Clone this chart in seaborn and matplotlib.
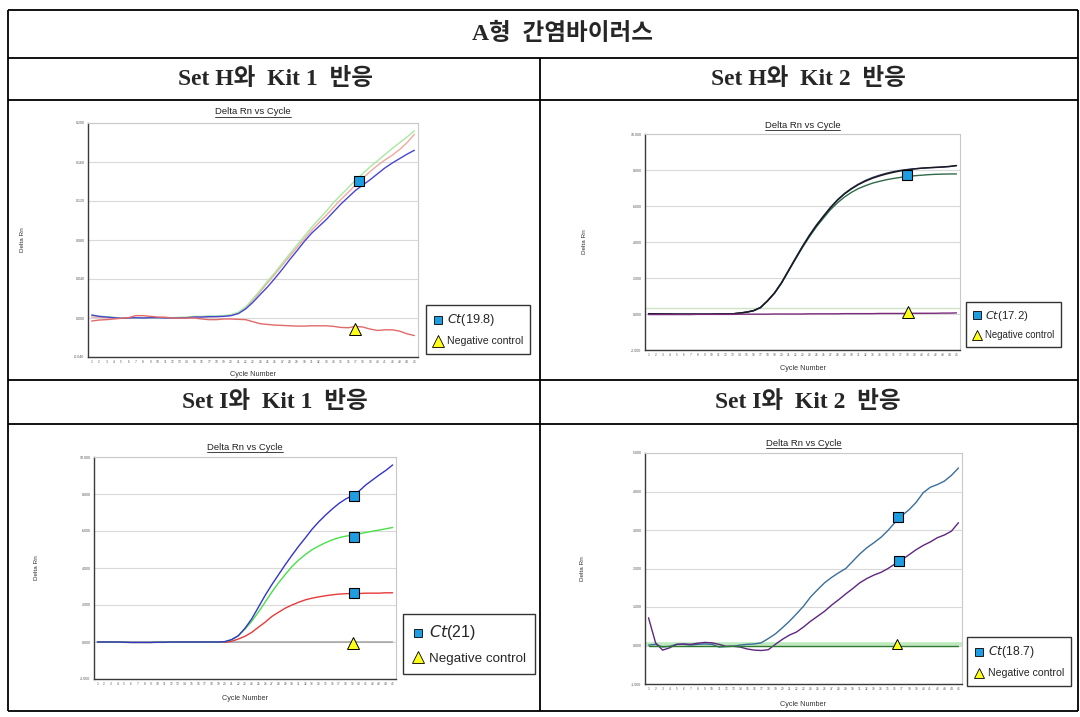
import numpy as np
import pandas as pd
import matplotlib
matplotlib.use("Agg")
import matplotlib.pyplot as plt
from matplotlib.lines import Line2D
import seaborn as sns

sns.set_theme(style="white")
plt.rcParams['font.family'] = ['Liberation Sans', 'Noto Sans CJK KR', 'DejaVu Sans']

# ---------------- data ----------------
cycles = list(range(1, 46))

main_title = "A형  간염바이러스"
panel_titles = ["Set H와  Kit 1  반응", "Set H와  Kit 2  반응", "Set I와  Kit 1  반응", "Set I와  Kit 2  반응"]
chart_title = "Delta Rn vs Cycle"
x_label = "Cycle Number"
y_label = "Delta Rn"

# Panel 1: Set H + Kit 1
p1_blue = [0.0031, 0.0017, 0.0010, 0.0003, -0.0003, 0.0000, 0.0003, 0.0000, 0.0003, 0.0003,
           0.0000, 0.0000, 0.0000, 0.0003, 0.0010, 0.0010, 0.0014, 0.0014, 0.0017, 0.0024,
           0.0045, 0.0093, 0.0162, 0.0242, 0.0320, 0.0408, 0.0500, 0.0598, 0.0690, 0.0785,
           0.0870, 0.0940, 0.1010, 0.1090, 0.1170, 0.1240, 0.1310, 0.1365, 0.1420, 0.1480,
           0.1540, 0.1590, 0.1635, 0.1680, 0.1720]
p1_green = [0.0024, 0.0017, 0.0014, 0.0007, 0.0003, 0.0003, 0.0000, -0.0003, 0.0000, 0.0000,
            0.0000, 0.0003, 0.0007, 0.0010, 0.0017, 0.0017, 0.0021, 0.0021, 0.0024, 0.0035,
            0.0059, 0.0114, 0.0197, 0.0287, 0.0380, 0.0467, 0.0563, 0.0657, 0.0750, 0.0840,
            0.0930, 0.1013, 0.1096, 0.1186, 0.1262, 0.1338, 0.1414, 0.1483, 0.1552, 0.1614,
            0.1677, 0.1739, 0.1798, 0.1856, 0.1919]
p1_salmon = [0.0010, 0.0007, 0.0003, 0.0000, 0.0000, -0.0003, 0.0000, 0.0003, 0.0000, 0.0003,
             0.0007, 0.0003, 0.0000, 0.0003, 0.0007, 0.0010, 0.0010, 0.0014, 0.0017, 0.0028,
             0.0052, 0.0104, 0.0183, 0.0270, 0.0363, 0.0449, 0.0543, 0.0633, 0.0723, 0.0812,
             0.0899, 0.0978, 0.1054, 0.1137, 0.1217, 0.1290, 0.1366, 0.1435, 0.1504, 0.1566,
             0.1621, 0.1670, 0.1729, 0.1798, 0.1884]
p1_neg = [-0.0031, -0.0021, -0.0017, -0.0010, -0.0003, 0.0003, 0.0024, 0.0024, 0.0017, 0.0010,
          0.0007, 0.0000, -0.0003, 0.0000, 0.0000, -0.0010, -0.0017, -0.0017, -0.0010, -0.0010,
          -0.0014, -0.0017, -0.0038, -0.0059, -0.0066, -0.0073, -0.0076, -0.0080, -0.0083, -0.0083,
          -0.0080, -0.0080, -0.0080, -0.0086, -0.0097, -0.0100, -0.0086, -0.0093, -0.0114, -0.0128,
          -0.0121, -0.0121, -0.0135, -0.0162, -0.0180]
p1_ct_x, p1_ct_y = [37.5], [0.1407]
p1_neg_x, p1_neg_y = [36.9], [-0.0114]
p1_ct_label = "(19.8)"

# Panel 2: Set H + Kit 2
p2_black = [0.02, 0.01, 0.00, 0.00, -0.01, -0.01, -0.01, -0.01, -0.01, -0.01,
            0.00, 0.00, 0.01, 0.05, 0.10, 0.18, 0.35, 0.72, 1.15, 1.72,
            2.40, 3.08, 3.74, 4.36, 4.92, 5.42, 5.90, 6.32, 6.67, 6.95,
            7.19, 7.38, 7.54, 7.67, 7.78, 7.87, 7.95, 8.01, 8.06, 8.10,
            8.13, 8.15, 8.17, 8.20, 8.25]
p2_navy = [0.01, 0.01, 0.00, 0.00, -0.01, -0.01, -0.01, -0.01, -0.01, -0.01,
           0.00, 0.00, 0.01, 0.05, 0.11, 0.19, 0.37, 0.74, 1.18, 1.75,
           2.43, 3.10, 3.77, 4.39, 4.95, 5.45, 5.93, 6.35, 6.70, 6.98,
           7.22, 7.42, 7.58, 7.71, 7.82, 7.91, 7.98, 8.03, 8.07, 8.10,
           8.12, 8.14, 8.16, 8.19, 8.24]
p2_green = [0.01, 0.00, 0.00, -0.01, -0.01, -0.01, -0.01, -0.01, -0.01, -0.01,
            0.00, 0.00, 0.01, 0.05, 0.10, 0.18, 0.36, 0.73, 1.16, 1.72,
            2.38, 3.05, 3.70, 4.30, 4.85, 5.33, 5.80, 6.18, 6.50, 6.76,
            6.97, 7.13, 7.27, 7.37, 7.46, 7.53, 7.59, 7.64, 7.68, 7.71,
            7.74, 7.76, 7.77, 7.78, 7.78]
p2_neg = [-0.03, -0.03, -0.03, -0.03, -0.03, -0.03, -0.03, -0.02, -0.02, -0.02,
          -0.02, -0.02, -0.02, -0.01, -0.01, -0.01, -0.01, -0.01, 0.00, 0.00,
          0.00, 0.00, 0.00, 0.01, 0.01, 0.01, 0.01, 0.01, 0.02, 0.02,
          0.02, 0.02, 0.02, 0.03, 0.03, 0.03, 0.03, 0.03, 0.04, 0.04,
          0.04, 0.04, 0.05, 0.05, 0.06]
p2_threshold = 0.33
p2_ct_x, p2_ct_y = [37.9], [7.70]
p2_neg_x, p2_neg_y = [38.0], [0.11]
p2_ct_label = "(17.2)"

# Panel 3: Set I + Kit 1
p3_blue = [0.00, 0.00, 0.00, 0.00, -0.01, -0.02, -0.02, -0.02, -0.02, -0.01,
           -0.01, 0.00, 0.00, 0.00, 0.00, 0.00, 0.00, 0.00, 0.00, 0.02,
           0.13, 0.34, 0.74, 1.25, 1.88, 2.52, 3.10, 3.64, 4.18, 4.69,
           5.18, 5.63, 6.10, 6.50, 6.86, 7.19, 7.49, 7.73, 7.91, 8.16,
           8.49, 8.76, 9.03, 9.28, 9.57]
p3_green = [0.00, 0.00, 0.00, 0.00, -0.01, -0.02, -0.02, -0.02, -0.02, -0.01,
            -0.01, 0.00, 0.00, 0.00, 0.00, 0.00, 0.00, 0.00, 0.00, 0.02,
            0.12, 0.34, 0.70, 1.12, 1.62, 2.15, 2.70, 3.20, 3.65, 4.08,
            4.43, 4.73, 4.99, 5.19, 5.37, 5.52, 5.64, 5.72, 5.78, 5.85,
            5.92, 5.99, 6.05, 6.12, 6.19]
p3_red = [0.00, 0.00, 0.00, 0.00, -0.01, -0.02, -0.02, -0.02, -0.02, -0.01,
          -0.01, 0.00, 0.00, 0.00, 0.00, 0.00, 0.00, 0.00, -0.01, -0.02,
          0.04, 0.16, 0.31, 0.52, 0.80, 1.07, 1.38, 1.61, 1.83, 2.00,
          2.15, 2.28, 2.37, 2.44, 2.50, 2.55, 2.59, 2.61, 2.62, 2.62,
          2.64, 2.64, 2.64, 2.66, 2.66]
p3_neg = [0.00, 0.00, 0.00, -0.01, -0.02, -0.03, -0.03, -0.03, -0.03, -0.02,
          -0.02, -0.01, -0.01, -0.01, 0.00, 0.00, 0.00, 0.00, 0.00, 0.00,
          0.00, 0.00, 0.00, 0.00, 0.00, 0.00, 0.00, 0.00, 0.00, 0.00,
          0.00, 0.00, 0.00, 0.00, 0.00, 0.00, 0.00, 0.00, 0.00, 0.00,
          0.00, 0.00, 0.00, 0.00, 0.00]
p3_ct_x, p3_ct_y = [39.3, 39.3, 39.3], [7.91, 5.70, 2.66]
p3_neg_x, p3_neg_y = [39.1], [-0.05]
p3_ct_label = "(21)"

# Panel 4: Set I + Kit 2
p4_blue = [0.01, 0.03, -0.04, -0.02, 0.03, 0.03, 0.01, 0.03, 0.04, 0.03,
           -0.04, -0.03, -0.02, 0.01, 0.03, 0.04, 0.07, 0.18, 0.30, 0.46,
           0.63, 0.82, 1.02, 1.26, 1.45, 1.63, 1.77, 1.89, 2.00, 2.19,
           2.38, 2.54, 2.67, 2.81, 2.99, 3.20, 3.38, 3.53, 3.72, 3.97,
           4.11, 4.18, 4.27, 4.42, 4.61]
p4_purple = [0.72, 0.07, -0.12, -0.06, 0.03, 0.04, 0.03, 0.06, 0.08, 0.07,
             0.03, -0.02, -0.02, -0.04, -0.09, -0.12, -0.13, -0.11, 0.03, 0.16,
             0.27, 0.35, 0.48, 0.63, 0.76, 0.89, 1.05, 1.19, 1.34, 1.48,
             1.63, 1.74, 1.83, 1.90, 2.00, 2.12, 2.23, 2.36, 2.49, 2.60,
             2.69, 2.80, 2.87, 2.97, 3.19]
p4_neg = [0.00, 0.00, 0.00, 0.00, 0.00, 0.00, 0.00, 0.00, 0.00, 0.00,
          0.00, 0.00, 0.00, 0.00, 0.00, 0.00, 0.00, 0.00, 0.00, 0.00,
          0.00, 0.00, 0.00, 0.00, 0.00, 0.00, 0.00, 0.00, 0.00, 0.00,
          0.00, 0.00, 0.00, 0.00, 0.00, 0.00, 0.00, 0.00, 0.00, 0.00,
          0.00, 0.00, 0.00, 0.00, 0.00]
p4_threshold = 0.05
p4_ct_x, p4_ct_y = [36.4, 36.5], [3.35, 2.19]
p4_neg_x, p4_neg_y = [36.3], [0.04]
p4_ct_label = "(18.7)"

p1_yticks = [-0.040, 0.000, 0.040, 0.080, 0.120, 0.160, 0.200]
p2_yticks = [-2.0, 0.0, 2.0, 4.0, 6.0, 8.0, 10.0]
p3_yticks = [-2.0, 0.0, 2.0, 4.0, 6.0, 8.0, 10.0]
p4_yticks = [-1.0, 0.0, 1.0, 2.0, 3.0, 4.0, 5.0]

# ---------------- layout ----------------
W, H = 1080, 717
fig = plt.figure(figsize=(W / 100, H / 100), dpi=100)
fig.patch.set_facecolor('white')


def fx(px):
    return px / W


def fy(py):
    return 1 - py / H


def line(x0, y0, x1, y1, lw=1.3):
    fig.add_artist(Line2D([fx(x0), fx(x1)], [fy(y0), fy(y1)], transform=fig.transFigure,
                          color='black', lw=lw, solid_capstyle='butt'))


# table frame
TL, TR, TT, TB = 8, 1078, 10, 711
for y in [TT, 58, 100, 380, 424, TB]:
    line(TL, y, TR, y)
line(TL, TT, TL, TB)
line(TR, TT, TR, TB)
line(540, 58, 540, TB)

head_font = ['Liberation Serif', 'Noto Sans CJK KR']
fig.text(fx(563), fy(34), main_title, ha='center', va='center', fontsize=17,
         fontweight='bold', family=head_font)
for (cx, cy), t in zip([(275, 79), (808, 79), (275, 402), (808, 402)], panel_titles):
    fig.text(fx(cx), fy(cy), t, ha='center', va='center', fontsize=17,
             fontweight='bold', family=head_font)

panels = [
    dict(rect=(88, 123, 418, 357),
         series=[("p1_salmon", p1_salmon, "#f0a8a0"), ("p1_green", p1_green, "#a8e8a0"),
                 ("p1_blue", p1_blue, "#4646d2"), ("p1_neg", p1_neg, "#e06a6a")],
         ylim=(-0.04, 0.2), yticks=p1_yticks, threshold=None,
         ct=(p1_ct_x, p1_ct_y), neg=(p1_neg_x, p1_neg_y), ct_label=p1_ct_label,
         sq=7.5, tri=8.5, title_y=112, ylab_x=22, xlab_y=374,
         leg=(426, 305, 531, 354), leg_fs=7.6, ct_fs=9.2),
    dict(rect=(645, 134, 960, 350),
         series=[("p2_green", p2_green, "#2f6a4a"), ("p2_navy", p2_navy, "#2c3560"),
                 ("p2_black", p2_black, "#1a1a22"), ("p2_neg", p2_neg, "#7a2a7a")],
         ylim=(-2, 10), yticks=p2_yticks, threshold=(p2_threshold, "#cfe3c5", 1.0),
         ct=(p2_ct_x, p2_ct_y), neg=(p2_neg_x, p2_neg_y), ct_label=p2_ct_label,
         sq=7, tri=8, title_y=125, ylab_x=584, xlab_y=369,
         leg=(966, 302, 1060, 346), leg_fs=6.9, ct_fs=8.2),
    dict(rect=(94, 457, 396, 679),
         series=[("p3_neg", p3_neg, "#9a9a9a"), ("p3_red", p3_red, "#e83a3a"),
                 ("p3_green", p3_green, "#48e048"), ("p3_blue", p3_blue, "#3434c8")],
         ylim=(-2, 10), yticks=p3_yticks, threshold=None,
         ct=(p3_ct_x, p3_ct_y), neg=(p3_neg_x, p3_neg_y), ct_label=p3_ct_label,
         sq=7, tri=8.5, title_y=447, ylab_x=37, xlab_y=698,
         leg=(403, 614, 537, 674), leg_fs=9.6, ct_fs=11.5),
    dict(rect=(645, 453, 962, 684),
         series=[("p4_blue", p4_blue, "#3a6e9a"), ("p4_purple", p4_purple, "#5e2680"),
                 ("p4_neg", p4_neg, "#2e7a2e")],
         ylim=(-1, 5), yticks=p4_yticks, threshold=(p4_threshold, "#bfeabf", 2.6),
         ct=(p4_ct_x, p4_ct_y), neg=(p4_neg_x, p4_neg_y), ct_label=p4_ct_label,
         sq=6.5, tri=7, title_y=443, ylab_x=582, xlab_y=704,
         leg=(967, 637, 1072, 682), leg_fs=7.6, ct_fs=8.8),
]

title_texts = []
for p in panels:
    l, t, r, b = p["rect"]
    ax = fig.add_axes([fx(l), fy(b), fx(r) - fx(l), fy(t) - fy(b)])
    ax.set_facecolor('white')
    rows = []
    for name, vals, col in p["series"]:
        for c, v in zip(cycles, vals):
            rows.append({"Cycle": c, "DeltaRn": v, "Well": name})
    df = pd.DataFrame(rows)
    pal = {name: col for name, vals, col in p["series"]}
    if p["threshold"] is not None:
        val, col, lw = p["threshold"]
        ax.axhline(val, color=col, lw=lw, zorder=1)
    sns.lineplot(data=df, x="Cycle", y="DeltaRn", hue="Well", palette=pal,
                 hue_order=[s[0] for s in p["series"]], ax=ax, legend=False,
                 linewidth=1.0, sort=False, zorder=3)
    ax.plot(p["ct"][0], p["ct"][1], 's', ms=p["sq"], mfc='#1e9de0', mec='black',
            mew=0.8, zorder=6, ls='none')
    ax.plot(p["neg"][0], p["neg"][1], '^', ms=p["tri"], mfc='#ffff1a', mec='black',
            mew=0.7, zorder=6, ls='none')
    ax.set_xlim(0.5, 45.5)
    ax.set_ylim(*p["ylim"])
    ax.set_xticks(cycles)
    ax.set_xticklabels([str(c) for c in cycles], fontsize=2.3, color='#555555')
    ax.set_yticks(p["yticks"])
    ax.set_yticklabels([f"{v:.3f}" for v in p["yticks"]], fontsize=2.6, color='#555555')
    ax.tick_params(axis='both', length=0, pad=2.5)
    ax.yaxis.grid(True, color='#d9d9d9', lw=0.8)
    ax.xaxis.grid(False)
    ax.set_axisbelow(True)
    for side in ['left', 'bottom']:
        ax.spines[side].set_color('#3a3a3a')
        ax.spines[side].set_linewidth(1.0)
    for side in ['top', 'right']:
        ax.spines[side].set_color('#c8c8c8')
        ax.spines[side].set_linewidth(0.8)
    ax.set_xlabel("")
    ax.set_ylabel("")
    cx = (l + r) / 2
    tt = fig.text(fx(cx), fy(p["title_y"]), chart_title, ha='center', va='center',
                  fontsize=6.8, color='#222222')
    title_texts.append(tt)
    fig.text(fx(p["ylab_x"]), fy((t + b) / 2), y_label, ha='center', va='center',
             rotation=90, fontsize=4.6, color='#333333')
    fig.text(fx(cx), fy(p["xlab_y"]), x_label, ha='center', va='center',
             fontsize=5.2, color='#333333')
    # legend box
    ll, lt, lr, lb = p["leg"]
    handles = [Line2D([], [], marker='s', ls='none', ms=p["sq"] * 0.85, mfc='#1e9de0',
                      mec='black', mew=0.6),
               Line2D([], [], marker='^', ls='none', ms=p["tri"] * 0.95, mfc='#ffff1a',
                      mec='black', mew=0.6)]
    labels = [r"$\mathit{Ct}$" + p["ct_label"], "Negative control"]
    leg = fig.legend(handles, labels, loc='upper left',
                     bbox_to_anchor=(fx(ll), fy(lt)), bbox_transform=fig.transFigure,
                     frameon=True, fancybox=False, edgecolor='black', fontsize=p["leg_fs"],
                     handlelength=0.9, handletextpad=0.35, borderpad=0.7,
                     labelspacing=0.75, borderaxespad=0.0)
    leg.get_frame().set_linewidth(1.0)
    leg.get_texts()[0].set_fontsize(p["ct_fs"])

# underline chart titles
fig.canvas.draw()
for tt in title_texts:
    bb = tt.get_window_extent()
    yline = bb.y0 - 0.5
    fig.add_artist(Line2D([bb.x0 / W, bb.x1 / W], [yline / H, yline / H],
                          transform=fig.transFigure, color='#222222', lw=0.6))

fig.savefig("out.png", dpi=100, facecolor='white')
